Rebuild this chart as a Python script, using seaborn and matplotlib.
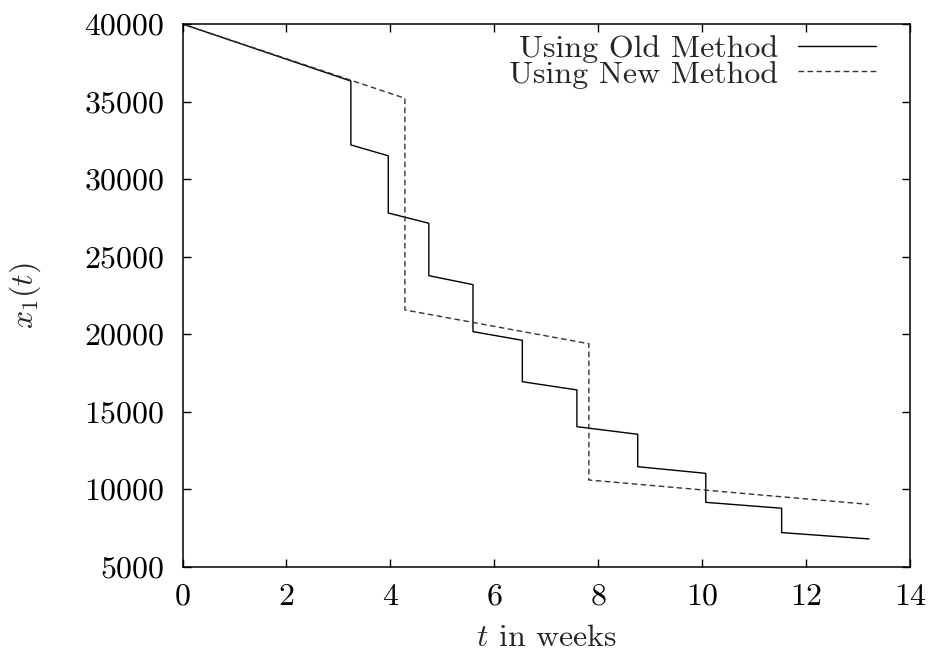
import matplotlib
matplotlib.use("Agg")
import matplotlib.pyplot as plt
import seaborn as sns
import pandas as pd

# Data
old_t = [0.0, 3.24, 3.24, 3.96, 3.96, 4.74, 4.74, 5.59, 5.59, 6.54, 6.54,
         7.59, 7.59, 8.76, 8.76, 10.07, 10.07, 11.53, 11.53, 13.21]
old_x = [40000, 36320, 32200, 31500, 27810, 27150, 23770, 23190, 20160, 19600, 16930,
         16400, 14030, 13540, 11450, 11020, 9150, 8770, 7200, 6790]
new_t = [0.0, 4.28, 4.28, 7.82, 7.82, 13.21]
new_x = [40000, 35210, 21560, 19380, 10590, 9020]

labels = ["Using Old Method", "Using New Method"]
xticks = [0, 2, 4, 6, 8, 10, 12, 14]
yticks = [5000, 10000, 15000, 20000, 25000, 30000, 35000, 40000]

df = pd.concat([
    pd.DataFrame({"t": old_t, "x": old_x, "method": labels[0]}),
    pd.DataFrame({"t": new_t, "x": new_x, "method": labels[1]}),
], ignore_index=True)

sns.set_style("ticks")
plt.rcParams.update({
    "font.family": ["cmr10", "DejaVu Serif"],
    "mathtext.fontset": "cm",
    "axes.formatter.use_mathtext": True,
    "font.size": 23,
    "axes.linewidth": 1.1,
    "xtick.direction": "in",
    "ytick.direction": "in",
    "xtick.major.size": 6,
    "ytick.major.size": 6,
    "xtick.top": True,
    "ytick.right": True,
    "xtick.color": "black",
    "ytick.color": "black",
    "axes.edgecolor": "black",
})

fig = plt.figure(figsize=(9.36, 6.55), dpi=100)
ax = fig.add_axes([182.5 / 936, 1 - 566.7 / 655, (910 - 182.5) / 936, (566.7 - 24) / 655])

sns.lineplot(data=df, x="t", y="x", hue="method", style="method",
             estimator=None, sort=False, units="method",
             palette={labels[0]: "black", labels[1]: "#333333"},
             dashes={labels[0]: "", labels[1]: (4, 2.5)},
             linewidth=1.0, ax=ax, legend=True)

ax.set_xlim(0, 14)
ax.set_ylim(5000, 40000)
ax.set_xticks(xticks)
ax.set_yticks(yticks)
ax.set_xticklabels([str(v) for v in xticks])
ax.set_yticklabels([str(v) for v in yticks])
ax.tick_params(axis="x", labelsize=23, pad=12, width=1.0)
ax.tick_params(axis="y", labelsize=23, pad=13, width=1.0)
ax.set_xlabel(r"$t$ in weeks", fontsize=23, labelpad=10)
ax.set_ylabel(r"$x_1(t)$", fontsize=23, labelpad=30)

handles, lbls = ax.get_legend_handles_labels()
ax.legend(handles, lbls, loc="upper right", bbox_to_anchor=(0.975, 1.009),
          frameon=False, markerfirst=False,
          fontsize=23, handlelength=2.45, handletextpad=0.6, labelspacing=-0.1,
          borderaxespad=0.2, borderpad=0.3)

for s in ax.spines.values():
    s.set_visible(True)

fig.savefig("out.png", dpi=100)
